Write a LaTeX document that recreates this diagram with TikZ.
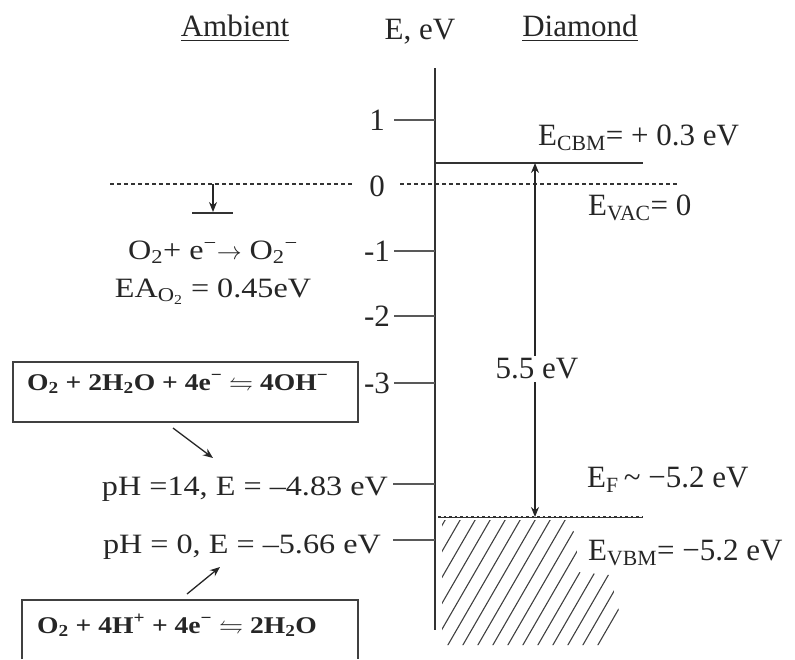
\documentclass[tikz,border=0pt]{standalone}
\usepackage{fontspec}
\usepackage{amssymb}
\setmainfont{Liberation Serif}
\newfontfamily\widefont{Liberation Serif}[FakeStretch=1.15]
\usetikzlibrary{arrows.meta}
\begin{document}
\begin{tikzpicture}[x=1pt,y=-1pt,
  every node/.style={inner sep=0pt},
  lbl/.style={anchor=base, font=\fontsize{31}{36}\selectfont, text=black!85},
  ticklbl/.style={anchor=base, font=\fontsize{31}{36}\selectfont, text=black!85},
  lefttext/.style={anchor=base, font=\widefont\fontsize{28}{32}\selectfont, text=black!85},
  boxtext/.style={anchor=base west, font=\widefont\bfseries\fontsize{24}{28}\selectfont, text=black!85},
  boxline/.style={line width=1.3pt, draw=black!75},
  axisline/.style={line width=1.7pt, draw=black!80},
  tickline/.style={line width=1.4pt, draw=black!65},
  lev/.style={line width=1.5pt, draw=black!80},
  dashlev/.style={line width=1.2pt, draw=black!80, dash pattern=on 4pt off 3pt},
  arr/.style={line width=1.3pt, draw=black!85, -{Stealth[length=10pt,width=8pt]}},
  hatch/.style={line width=1.1pt, draw=black!75},
]
\useasboundingbox (0,0) rectangle (795,659);

% headers
\node[lbl] (hA) at (235,36) {\underline{Ambient}};
\node[lbl] (hE) at (420,39) {E, eV};
\node[lbl] (hD) at (580,36) {\underline{Diamond}};

% axis
\coordinate (axtop) at (435,68);
\coordinate (axbot) at (435,630);
\draw[axisline] (axtop) -- (axbot);

% ticks
\foreach \y/\l/\n in {120/1/p1, 251/-1/m1, 316/-2/m2, 383/-3/m3} {
  \coordinate (tk\n) at (394,\y);
  \coordinate (ta\n) at (435,\y);
  \draw[tickline] (tk\n) -- (ta\n);
  \node[ticklbl] (lb\n) at (377,{\y+10}) {\l};
}
\node[ticklbl] (lb0) at (377,196) {0};

% vacuum level (dashed)
\coordinate (vl1) at (110,184); \coordinate (vl2) at (352,184);
\coordinate (vr1) at (400,184); \coordinate (vr2) at (678,184);
\draw[dashlev] (vl1) -- (vl2);
\draw[dashlev] (vr1) -- (vr2);

% O2 electron affinity marker
\coordinate (mk0) at (213,184);
\coordinate (mk1) at (213,212);
\coordinate (bar1) at (192,213); \coordinate (bar2) at (233,213);
\draw[arr] (mk0) -- (mk1);
\draw[lev] (bar1) -- (bar2);
\node[lefttext] (rxn) at (213,259) {O\textsubscript{2}+ e\textsuperscript{−}$\rightarrow$ O\textsubscript{2}\textsuperscript{−}};
\node[lefttext] (ea) at (213,297) {EA\textsubscript{O\textsubscript{2}} = 0.45eV};

% box 1
\coordinate (b1a) at (13,362); \coordinate (b1b) at (358,422);
\draw[boxline] (b1a) rectangle (b1b);
\node[boxtext] (b1t) at (27,390) {O\textsubscript{2} + 2H\textsubscript{2}O + 4e\textsuperscript{−} $\leftrightharpoons$ 4OH\textsuperscript{−}};
\coordinate (a1s) at (173,428); \coordinate (a1e) at (213,458);
\draw[arr] (a1s) -- (a1e);

% pH levels
\node[lefttext, anchor=base east] (ph14) at (388,495) {pH =14, E = –4.83 eV};
\coordinate (t14a) at (393,484); \coordinate (t14b) at (435,484);
\draw[tickline] (t14a) -- (t14b);
\node[lefttext, anchor=base east] (ph0) at (381,553) {pH = 0, E = –5.66 eV};
\coordinate (t0a) at (393,540); \coordinate (t0b) at (435,540);
\draw[tickline] (t0a) -- (t0b);

% box 2 (cut by the lower edge)
\coordinate (a2s) at (187,594); \coordinate (a2e) at (220,567);
\draw[arr] (a2s) -- (a2e);
\coordinate (b2a) at (22,659); \coordinate (b2b) at (22,600);
\coordinate (b2c) at (358,600); \coordinate (b2d) at (358,659);
\draw[boxline] (b2a) -- (b2b) -- (b2c) -- (b2d);
\node[boxtext] (b2t) at (37,633) {O\textsubscript{2} + 4H\textsuperscript{+} + 4e\textsuperscript{−} $\leftrightharpoons$ 2H\textsubscript{2}O};

% diamond bands
\coordinate (cbm1) at (435,163); \coordinate (cbm2) at (643,163);
\draw[lev] (cbm1) -- (cbm2);
\coordinate (ef1) at (438,517); \coordinate (ef2) at (642,517);
\draw[line width=0.8pt, draw=black!80] (ef1) -- (ef2);
\draw[line width=1.6pt, draw=black!80, dash pattern=on 2.5pt off 3pt] (ef1) -- (ef2);

% hatch (valence band)
\begin{scope}
  \clip (442,520) -- (566,520) -- (576,535) -- (578,572) -- (610,575) -- (620,615) -- (605,645) -- (442,645) -- cycle;
  \foreach \x in {355,370,...,640} { \draw[hatch] (\x,650) -- ({\x+78},515); }
\end{scope}

% gap arrow
\coordinate (gT) at (535,163); \coordinate (gB) at (535,517);
\draw[line width=1.3pt, draw=black!85, {Stealth[length=10pt,width=8pt]}-{Stealth[length=10pt,width=8pt]}] (gT) -- (gB);
\node[lbl, anchor=center, fill=white, inner sep=3pt] (gap) at (537,369) {5.5 eV};

% right labels
\node[lbl, anchor=base west] (lcbm) at (538,145) {E\textsubscript{CBM}= + 0.3 eV};
\node[lbl, anchor=base west] (lvac) at (588,215) {E\textsubscript{VAC}= 0};
\node[lbl, anchor=base west] (lef) at (587,487) {E\textsubscript{F}\,\textasciitilde\ −5.2 eV};
\node[lbl, anchor=base west] (lvbm) at (588,560) {E\textsubscript{VBM}= −5.2 eV};
\end{tikzpicture}
\end{document}
